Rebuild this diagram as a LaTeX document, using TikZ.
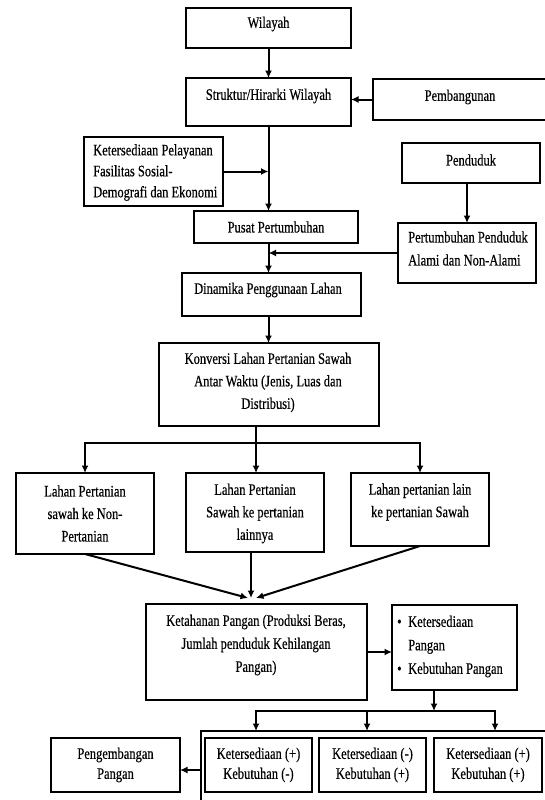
\documentclass[tikz,border=0pt]{standalone}
\usepackage{fontspec}
\setmainfont{Liberation Serif}[FakeStretch=0.78,FakeBold=0.4]
\usetikzlibrary{arrows.meta}
\begin{document}
\begin{tikzpicture}[x=1pt,y=-1pt,
  box/.style={draw, line width=1.1pt, inner sep=0pt, outer sep=0pt},
  txt/.style={inner sep=0pt, font=\fontsize{16}{22}\selectfont, align=center},
  conn/.style={line width=2pt},
  arr/.style={conn, -{Latex[length=7.5pt,width=7pt]}}]
\useasboundingbox (0,0) rectangle (545,800);
\clip (0,0) rectangle (545,800);
% boxes
\node[box, minimum width=165pt, minimum height=40pt] (wil) at (268.5,28) {};
\node[txt] (wil-t) at (268.5,24) {Wilayah};
\node[box, minimum width=165pt, minimum height=48pt] (str) at (268.5,102) {};
\node[txt] (str-t) at (268.5,96) {Struktur/Hirarki Wilayah};
\node[box, minimum width=182pt, minimum height=41pt] (pem) at (464,99.5) {};
\node[txt] (pem-t) at (460,97) {Pembangunan};
\node[box, minimum width=139pt, minimum height=69pt] (ket) at (153.5,171.5) {};
\node[txt, align=left, anchor=west, font=\fontsize{16}{21}\selectfont] (ket-t) at (93,172.5) {Ketersediaan Pelayanan\\Fasilitas Sosial-\\Demografi dan Ekonomi};
\node[box, minimum width=164pt, minimum height=32pt] (pus) at (276,227) {};
\node[txt] (pus-t) at (276,227) {Pusat Pertumbuhan};
\node[box, minimum width=138pt, minimum height=40pt] (pen) at (471,163) {};
\node[txt] (pen-t) at (471,160) {Penduduk};
\node[box, minimum width=138pt, minimum height=60pt] (per) at (467,253) {};
\node[txt, align=left, anchor=west, font=\fontsize{16}{23}\selectfont] (per-t) at (408,248.5) {Pertumbuhan Penduduk\\Alami dan Non-Alami};
\node[box, minimum width=179pt, minimum height=43pt] (din) at (271.5,294.5) {};
\node[txt] (din-t) at (268,290) {Dinamika Penggunaan Lahan};
\node[box, minimum width=220pt, minimum height=83pt] (kon) at (269,384.5) {};
\node[txt, font=\fontsize{16}{22.5}\selectfont] (kon-t) at (268,382.5) {Konversi Lahan Pertanian Sawah\\Antar Waktu (Jenis, Luas dan\\Distribusi)};
\node[box, minimum width=138pt, minimum height=81pt] (b1) at (85,513.5) {};
\node[txt, font=\fontsize{16}{22.5}\selectfont] (b1-t) at (85,513.5) {Lahan Pertanian\\sawah ke Non-\\Pertanian};
\node[box, minimum width=138pt, minimum height=79pt] (b2) at (255,512.5) {};
\node[txt, font=\fontsize{16}{22.5}\selectfont] (b2-t) at (255,513.5) {Lahan Pertanian\\Sawah ke pertanian\\lainnya};
\node[box, minimum width=138pt, minimum height=73pt] (b3) at (420,509.5) {};
\node[txt, font=\fontsize{16}{22.5}\selectfont] (b3-t) at (420,502) {Lahan pertanian lain\\ke pertanian Sawah};
\node[box, minimum width=221pt, minimum height=96pt] (keth) at (256.5,652) {};
\node[txt, font=\fontsize{16}{23}\selectfont] (keth-t) at (256,645) {Ketahanan Pangan (Produksi Beras,\\Jumlah penduduk Kehilangan\\Pangan)};
\node[box, minimum width=125pt, minimum height=85pt] (bul) at (454.5,647.5) {};
\node[txt, align=left, anchor=west, font=\fontsize{16}{23.5}\selectfont] (bul-t) at (397,646.5) {\makebox[11pt][l]{•}Ketersediaan\\\makebox[11pt][l]{}Pangan\\\makebox[11pt][l]{•}Kebutuhan Pangan};
\node[box, minimum width=359pt, minimum height=89pt] (outer) at (380.5,775.5) {};
\node[box, minimum width=107pt, minimum height=54pt] (ia) at (258.5,765) {};
\node[txt, font=\fontsize{16}{20}\selectfont] (ia-t) at (258.5,765) {Ketersediaan (+)\\Kebutuhan (-)};
\node[box, minimum width=107pt, minimum height=54pt] (ib) at (372.5,765) {};
\node[txt, font=\fontsize{16}{20}\selectfont] (ib-t) at (372.5,765) {Ketersediaan (-)\\Kebutuhan (+)};
\node[box, minimum width=108pt, minimum height=54pt] (ic) at (488,765) {};
\node[txt, font=\fontsize{16}{20}\selectfont] (ic-t) at (488,765) {Ketersediaan (+)\\Kebutuhan (+)};
\node[box, minimum width=129pt, minimum height=54pt] (peng) at (115.5,765) {};
\node[txt, font=\fontsize{16}{20}\selectfont] (peng-t) at (115.5,765) {Pengembangan\\Pangan};
% coordinates
\coordinate (split) at (256,443);
\coordinate (cv1) at (248,598);
\coordinate (cv2) at (251,598);
\coordinate (cv3) at (256,598);
\coordinate (split2) at (434,711);
\coordinate (ta) at (256,731);
\coordinate (tb) at (367,731);
\coordinate (tc) at (495,731);
\coordinate (oa) at (201,770);
% connectors
\draw[arr] (wil.south) -- (str.north);
\draw[arr] (pem.west) -- (pem.west -| str.east);
\draw[arr] (str.south) -- (pus.north -| str.south);
\draw[arr] (ket.east) -- (ket.east -| str.south);
\draw[arr] (per.north |- pen.south) -- (per.north);
\draw[arr] (per.west) -- (per.west -| str.south);
\draw[arr] (pus.south -| str.south) -- (din.north -| str.south);
\draw[arr] (din.south -| str.south) -- (kon.north -| str.south);
\draw[conn] (kon.south -| split) -- (split);
\draw[arr] (split) -| (b1.north);
\draw[arr] (split) -| (b3.north);
\draw[arr] (split) -- (b2.north -| split);
\draw[arr] (b1.south) -- (cv1);
\draw[arr] (b2.south -| cv2) -- (cv2);
\draw[arr] (b3.south) -- (cv3);
\draw[arr] (keth.east) -- (bul.west |- keth.east);
\draw[arr] (bul.south -| split2) -- (split2);
\draw[arr] (split2) -| (ta);
\draw[arr] (split2) -| (tc);
\draw[arr] (split2 -| tb) -- (tb);
\draw[arr] (oa) -- (peng.east |- oa);
\end{tikzpicture}
\end{document}
